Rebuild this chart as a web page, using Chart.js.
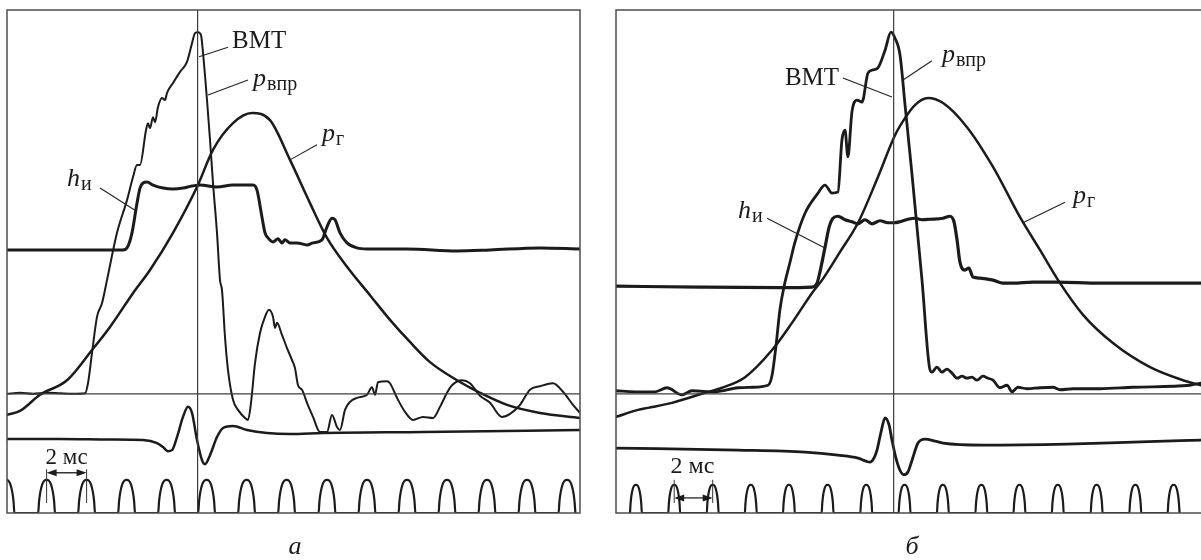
<!DOCTYPE html>
<html lang="ru">
<head>
<meta charset="utf-8">
<title>Осциллограммы впрыска</title>
<script src="https://cdn.jsdelivr.net/npm/chart.js@4.4.1/dist/chart.umd.min.js"></script>
<style>
  html, body { margin: 0; padding: 0; background: #fff; overflow: hidden; }
  #wrap { position: relative; width: 1201px; height: 560px; }
  canvas { position: absolute; top: 0; }
  #chartA { left: 0; }
  #chartB { left: 600px; }
</style>
</head>
<body>
<div id="wrap">
  <canvas id="chartA" width="600" height="560"></canvas>
  <canvas id="chartB" width="601" height="560"></canvas>
</div>
<script>
// x: time in ms from the left edge of the frame, y: trace level in % of frame height

// ---- oscillogram а ----
const tdcA = 9.53;        // ВМТ
const zeroLineA = 23.7;
const injPressureA = [
  [0,23.7],[0.65,23.9],[1.3,23.7],[2.0,23.9],[2.65,23.8],[3.3,23.7],[3.9,23.8],[4.05,25.8],[4.25,31.8],[4.5,39.0],
  [4.75,41.7],[5.0,46.3],[5.5,55.7],[6.0,62.2],[6.3,66.8],[6.5,69.2],[6.65,69.2],[6.95,76.1],[7.05,77.5],[7.15,76.5],
  [7.3,78.7],[7.4,77.7],[7.55,80.7],[7.75,82.5],[7.9,82.1],[8.0,83.5],[8.3,85.5],[8.65,87.7],[9.0,89.7],[9.25,93.4],
  [9.4,95.4],[9.55,95.6],[9.7,95.0],[9.8,91.5],[10.0,82.1],[10.15,74.2],[10.3,65.6],[10.5,55.7],[10.65,46.3],[10.75,44.3],
  [10.9,35.0],[11.05,28.4],[11.3,22.5],[11.55,20.5],[11.9,18.9],[12.05,18.5],[12.2,21.9],[12.4,29.8],[12.65,35.8],[12.9,39.0],
  [13.1,40.4],[13.3,39.0],[13.4,36.8],[13.5,37.8],[13.75,35.4],[14.0,32.8],[14.25,30.4],[14.4,28.8],[14.55,25.4],[14.75,24.5],
  [15.0,21.9],[15.3,19.1],[15.65,16.1],[16.0,16.1],[16.25,19.5],[16.5,17.1],[16.65,16.5],[16.9,20.5],[17.15,22.1],[17.5,22.9],
  [18.0,23.5],[18.25,25.0],[18.4,23.5],[18.55,26.0],[19.0,26.2],[19.15,25.8],[19.5,22.9],[19.9,20.1],[20.3,18.5],[20.8,19.1],
  [21.3,18.9],[21.65,21.1],[22.0,23.9],[22.25,25.4],[22.75,26.4],[23.15,25.8],[23.65,23.3],[24.15,21.9],[24.75,19.1],[25.15,19.7],
  [25.65,21.5],[26.15,24.5],[26.65,25.2],[27.3,25.8],[27.8,24.1],[28.3,21.5],[28.65,19.9]
];
const needleLiftA = [
  [0,52.3],[2.65,52.3],[5.8,52.3],[6.0,52.7],[6.25,55.7],[6.5,61.6],[6.65,64.6],[6.8,65.6],[7.0,65.8],[7.3,65.2],
  [7.8,64.6],[8.3,64.4],[8.8,64.6],[9.25,65.0],[9.65,65.2],[10.5,64.8],[11.3,65.2],[12.3,65.2],[12.5,64.2],[12.75,58.8],
  [12.9,55.7],[13.05,54.7],[13.3,53.9],[13.55,54.5],[13.75,53.7],[13.9,54.3],[14.15,53.7],[14.5,53.7],[15.0,53.3],[15.3,53.7],
  [15.75,54.3],[16.0,56.9],[16.25,58.6],[16.4,58.3],[16.65,55.7],[17.0,53.7],[17.5,52.7],[18.0,52.5],[20.0,52.5],[22.5,52.1],
  [24.15,52.3],[26.65,52.7],[28.65,52.5]
];
const gasPressureA = [
  [0,19.5],[0.65,20.3],[1.65,23.5],[3.0,26.4],[4.25,32.4],[5.15,37.0],[6.3,43.7],[7.15,48.3],[8.3,55.7],[9.5,64.8],
  [10.3,72.2],[11.3,77.5],[12.25,79.5],[13.15,78.1],[14.15,70.2],[15.15,61.6],[16.0,54.7],[17.05,48.7],[18.15,43.3],[19.15,38.4],
  [20.15,34.0],[21.15,30.0],[22.5,26.4],[23.65,23.9],[25.0,21.5],[26.65,19.9],[28.65,18.9]
];
const tdcSensorA = [
  [0,14.7],[2.65,14.7],[5.15,14.6],[6.8,14.5],[7.5,13.9],[7.8,13.1],[8.05,12.3],[8.25,12.5],[8.5,15.1],[8.8,19.1],
  [9.05,21.1],[9.25,19.9],[9.5,14.5],[9.75,10.5],[9.9,9.7],[10.15,11.5],[10.5,15.1],[10.8,16.9],[11.3,17.3],[12.0,16.5],
  [13.0,15.9],[14.15,15.7],[15.8,15.9],[20.8,16.1],[28.65,16.5]
];
const timeMarksA = [-0.05, 1.98, 3.98, 5.98, 7.98, 9.98, 11.98, 13.98, 16.0, 18.0, 20.0, 22.0, 24.0, 26.0, 28.0];

// ---- oscillogram б ----
const tdcB = 14.5;
const zeroLineB = 23.7;
const injPressureB = [
  [0,24.3],[0.99,24.1],[2.04,24.1],[2.66,24.9],[3.45,23.5],[3.97,24.3],[5.17,24.1],[6.37,24.9],[7.1,25.0],[7.94,25.4],
  [8.15,27.4],[8.36,33.4],[8.56,40.4],[8.77,44.9],[9.09,49.9],[9.35,53.9],[9.87,59.6],[10.55,63.6],[10.91,65.2],[11.28,63.6],
  [11.59,63.8],[11.8,74.2],[11.96,76.1],[12.11,70.8],[12.32,79.7],[12.58,82.1],[12.85,81.7],[13.16,87.5],[13.42,88.1],[13.68,88.5],
  [14.05,92.0],[14.36,95.6],[14.57,94.4],[14.83,91.1],[15.09,81.3],[15.46,67.2],[15.98,46.3],[16.4,28.4],[16.5,28.0],[16.76,29.0],
  [17.02,28.0],[17.28,28.6],[17.55,27.8],[17.81,26.8],[18.07,27.2],[18.33,26.8],[18.59,27.0],[18.85,26.4],[19.16,27.2],[19.43,26.8],
  [19.69,26.4],[20.05,24.9],[20.42,25.4],[20.68,24.1],[20.99,25.0],[21.46,24.7],[22.14,24.9],[22.82,25.0],[23.19,24.5],[23.86,24.7],
  [25.27,24.7],[27.0,25.0],[29.97,25.4],[30.55,25.8]
];
const needleLiftB = [
  [0,45.1],[4.39,44.9],[8.56,44.8],[10.23,44.9],[10.5,45.7],[10.65,47.9],[10.91,52.7],[11.12,56.7],[11.33,58.6],[11.59,59.0],
  [11.96,58.3],[12.32,57.9],[12.64,57.5],[13.0,58.3],[13.37,57.5],[13.79,58.1],[14.2,57.7],[14.52,57.7],[14.83,57.9],[15.25,58.4],
  [15.61,58.6],[15.98,58.3],[16.4,58.4],[17.08,58.6],[17.44,59.0],[17.65,57.9],[17.81,54.3],[17.96,49.9],[18.22,48.3],[18.43,48.7],
  [18.64,46.9],[19.01,46.7],[19.69,46.3],[20.21,45.7],[20.73,45.7],[21.78,45.9],[23.03,45.9],[25.27,45.7],[27.89,45.7],[30.55,45.7]
];
const gasPressureB = [
  [0,19.1],[1.15,20.5],[1.67,20.9],[2.92,21.9],[4.65,23.9],[5.54,24.9],[6.74,27.0],[8.15,32.4],[9.19,37.8],[10.23,43.7],
  [10.76,46.3],[11.7,51.9],[12.64,57.7],[13.68,66.8],[14.57,75.1],[15.09,78.5],[15.61,81.1],[16.29,82.5],[17.08,81.5],[18.33,76.7],
  [19.69,68.8],[21.1,58.8],[22.14,52.3],[23.19,45.7],[24.39,39.4],[25.95,33.8],[27.89,29.0],[29.61,26.4],[30.55,25.4]
];
const tdcSensorB = [
  [0,12.9],[6.37,12.5],[9.87,12.1],[11.59,11.5],[12.64,10.9],[13.05,10.3],[13.26,10.1],[13.47,10.9],[13.63,12.5],[13.84,16.1],
  [14.05,18.9],[14.26,17.5],[14.41,14.5],[14.62,10.9],[14.83,8.5],[15.04,7.6],[15.25,8.2],[15.46,10.5],[15.77,13.9],[16.14,14.7],
  [16.66,14.3],[17.08,13.9],[19.16,13.5],[23.55,13.7],[27.0,14.1],[30.55,14.5]
];
const timeMarksB = [1.04, 3.04, 5.05, 7.04, 9.03, 11.05, 13.07, 15.07, 17.07, 19.08, 21.07, 23.07, 25.1, 27.12, 29.12];

// shape of one 2 ms timer pulse: [offset / half width, level / height]
const markProfile = [[-1,0],[-0.9,0.34],[-0.75,0.63],[-0.5,0.88],[-0.25,0.98],[0,1],[0.25,0.98],[0.5,0.88],[0.75,0.63],[0.9,0.34],[1,0]];

const INK = '#1b1b1b';

function markTrace(centres, halfWidth, height) {
  const pts = [];
  centres.forEach(c => markProfile.forEach(([dx, h]) => pts.push({ x: c + dx * halfWidth, y: h * height })));
  return pts;
}

const toXY = arr => arr.map(([x, y]) => ({ x, y }));

// frame, labels with leader lines, the "2 мс" scale and the caption
const framePlugin = {
  id: 'frame',
  afterDatasetsDraw(chart, args, o) {
    const { ctx, chartArea: a, scales } = chart;
    const X = t => scales.x.getPixelForValue(t);
    const Y = v => scales.y.getPixelForValue(v);
    ctx.save();

    ctx.strokeStyle = '#4d4d4d';
    ctx.lineWidth = 1.5;
    ctx.beginPath();
    if (o.openRight) {
      ctx.moveTo(a.right + 2, a.top);
      ctx.lineTo(a.left, a.top);
      ctx.lineTo(a.left, a.bottom);
      ctx.lineTo(a.right + 2, a.bottom);
    } else {
      ctx.rect(a.left, a.top, a.right - a.left, a.bottom - a.top);
    }
    ctx.stroke();

    // leader lines
    ctx.strokeStyle = '#222';
    ctx.lineWidth = 1.1;
    o.labels.forEach(l => {
      ctx.beginPath();
      ctx.moveTo(X(l.from[0]), Y(l.from[1]));
      ctx.lineTo(X(l.to[0]), Y(l.to[1]));
      ctx.stroke();
    });

    // label text
    ctx.fillStyle = INK;
    ctx.textBaseline = 'alphabetic';
    ctx.textAlign = 'left';
    o.labels.forEach(l => {
      let x = X(l.at[0]);
      const y = Y(l.at[1]);
      ctx.font = (l.italic ? 'italic ' : '') + (l.size || 26) + 'px "Liberation Serif"';
      ctx.fillText(l.text, x, y);
      if (l.sub) {
        x += ctx.measureText(l.text).width + 1;
        ctx.font = '20px "Liberation Serif"';
        ctx.fillText(l.sub, x, y + 4);
      }
    });

    // 2 ms scale
    const p = o.period;
    const x1 = X(p.from), x2 = X(p.to), ya = Y(p.v);
    ctx.strokeStyle = '#333';
    ctx.lineWidth = 1;
    ctx.beginPath();
    ctx.moveTo(x1, Y(p.tickTop)); ctx.lineTo(x1, Y(p.tickBottom));
    ctx.moveTo(x2, Y(p.tickTop)); ctx.lineTo(x2, Y(p.tickBottom));
    ctx.stroke();
    ctx.lineWidth = 1.4;
    ctx.beginPath();
    ctx.moveTo(x1 + 4, ya); ctx.lineTo(x2 - 4, ya);
    ctx.stroke();
    ctx.fillStyle = INK;
    [[x1, 1], [x2, -1]].forEach(([xt, d]) => {
      ctx.beginPath();
      ctx.moveTo(xt, ya);
      ctx.lineTo(xt + d * 10, ya - 3.5);
      ctx.lineTo(xt + d * 10, ya + 3.5);
      ctx.closePath();
      ctx.fill();
    });
    ctx.textAlign = 'center';
    ctx.font = p.fontSize + 'px "Liberation Serif"';
    ctx.fillText('2 мс', X(p.textAt[0]), Y(p.textAt[1]));

    // caption under the frame
    ctx.font = 'italic 26px "Liberation Serif"';
    ctx.fillText(o.caption.text, X(o.caption.at[0]), Y(o.caption.at[1]));

    ctx.restore();
  }
};

function buildChart(id, p) {
  const trace = (data, width) => ({
    data: toXY(data),
    borderColor: INK,
    borderWidth: width,
    pointRadius: 0,
    cubicInterpolationMode: 'monotone',
    borderJoinStyle: 'round',
    borderCapStyle: 'round'
  });
  const refLine = pts => ({ data: pts, borderColor: '#3c3c3c', borderWidth: 1.2, pointRadius: 0, tension: 0 });

  return new Chart(document.getElementById(id), {
    type: 'line',
    data: {
      datasets: [
        refLine([{ x: p.tdc, y: 0 }, { x: p.tdc, y: 100 }]),
        refLine([{ x: 0, y: p.zero }, { x: p.tMax, y: p.zero }]),
        trace(p.gas, p.widths[2]),
        trace(p.needle, p.widths[1]),
        trace(p.inj, p.widths[0]),
        trace(p.sensor, p.widths[3]),
        Object.assign(trace([], p.widths[4]), { data: markTrace(p.marks, p.markHalf, p.markHeight) })
      ]
    },
    options: {
      responsive: false,
      devicePixelRatio: 1,
      animation: false,
      events: [],
      layout: { padding: p.padding },
      scales: {
        x: { type: 'linear', min: 0, max: p.tMax, display: false },
        y: { type: 'linear', min: 0, max: 100, display: false }
      },
      plugins: {
        legend: { display: false },
        tooltip: { enabled: false },
        frame: p.decor
      }
    },
    plugins: [framePlugin]
  });
}

buildChart('chartA', {
  tdc: tdcA, zero: zeroLineA, tMax: 28.65,
  inj: injPressureA, needle: needleLiftA, gas: gasPressureA, sensor: tdcSensorA,
  marks: timeMarksA, markHalf: 0.42, markHeight: 6.6,
  widths: [2, 3, 2.5, 2.5, 2.2],
  padding: { left: 7, top: 10, right: 20, bottom: 47 },
  decor: {
    openRight: false,
    labels: [
      { text: 'ВМТ', size: 25, at: [11.25, 92.4], from: [11.05, 92.6], to: [9.6, 90.7] },
      { text: 'p', sub: 'впр', italic: true, at: [12.3, 84.8], from: [12.05, 86.1], to: [10.05, 83.1] },
      { text: 'p', sub: 'г', italic: true, at: [15.75, 74.0], from: [15.5, 73.2], to: [14.15, 70.2] },
      { text: 'h', sub: 'и', italic: true, at: [3.0, 65.0], from: [4.65, 64.6], to: [6.4, 60.2] }
    ],
    period: { from: 1.98, to: 3.98, v: 8.0, tickTop: 8.7, tickBottom: 2.0, textAt: [2.98, 9.7], fontSize: 23 },
    caption: { text: 'а', at: [14.4, -8.2] }
  }
});

buildChart('chartB', {
  tdc: tdcB, zero: zeroLineB, tMax: 30.55,
  inj: injPressureB, needle: needleLiftB, gas: gasPressureB, sensor: tdcSensorB,
  marks: timeMarksB, markHalf: 0.31, markHeight: 5.6,
  widths: [2.8, 3.2, 2.5, 2.8, 2.2],
  padding: { left: 16, top: 10, right: 0, bottom: 47 },
  decor: {
    openRight: true,
    labels: [
      { text: 'ВМТ', size: 25, at: [8.82, 85.1], from: [11.85, 86.5], to: [14.41, 82.7] },
      { text: 'p', sub: 'впр', italic: true, at: [17.02, 89.7], from: [16.5, 89.9], to: [14.99, 86.1] },
      { text: 'p', sub: 'г', italic: true, at: [23.86, 61.6], from: [23.45, 61.8], to: [21.25, 57.7] },
      { text: 'h', sub: 'и', italic: true, at: [6.37, 58.6], from: [7.89, 58.6], to: [10.91, 52.7] }
    ],
    period: { from: 3.04, to: 5.05, v: 3.0, tickTop: 6.6, tickBottom: 2.0, textAt: [3.99, 8.0], fontSize: 24 },
    caption: { text: 'б', at: [15.46, -8.2] }
  }
});
</script>
</body>
</html>
